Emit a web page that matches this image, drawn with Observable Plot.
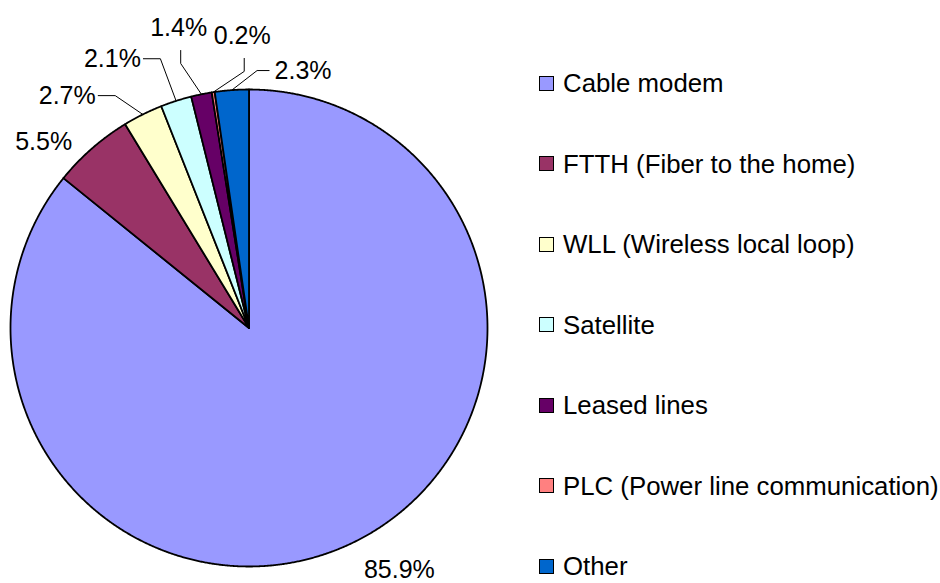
<!DOCTYPE html>
<html><head><meta charset="utf-8">
<script src="https://cdn.jsdelivr.net/npm/d3@7"></script>
<script src="https://cdn.jsdelivr.net/npm/@observablehq/plot@0.6"></script>
<style>
body{margin:0;background:#fff;font-family:"Liberation Sans",Arial,sans-serif;}
#wrap{position:relative;width:940px;height:583px;overflow:hidden;background:#fff}
#chart{position:absolute;left:0;top:0}
#legend{position:absolute;left:539px;top:0;width:401px;height:583px}
.item{position:absolute;left:0;height:22px;line-height:22px;display:flex;align-items:center;white-space:nowrap;font-size:25.8px;color:#000}
.sw{width:13px;height:13px;border:1px solid #000;margin-right:9px;flex:none}
</style></head><body><div id="wrap"><div id="chart"></div><div id="legend"></div></div>
<script>
// ---- data ----
const categories = ["Cable modem","FTTH (Fiber to the home)","WLL (Wireless local loop)","Satellite","Leased lines","PLC (Power line communication)","Other"];
const shares = [85.9, 5.5, 2.7, 2.1, 1.4, 0.2, 2.3];
const labels = ["85.9%","5.5%","2.7%","2.1%","1.4%","0.2%","2.3%"];
const colors = ["#9999FF","#993366","#FFFFCC","#CCFFFF","#660066","#FF8080","#0066CC"];

// ---- layout (styling only) ----
const W = 940, H = 583, CX = 248.5, CY = 327.5, R = 238.5;
const labelNudge = [-6.3, -6.7, -11.6, -9.1, -1.7, 7.3, 16];   // degrees from slice mid-angle
const labelDist  = [1.195, 1.161, 1.237, 1.266, 1.290, 1.223, 1.103]; // in radii
const leaderKind = [null, null, "left", "left", "top", "top", "right"];

const pie = d3.pie().sort(null).value(d => d)(shares);
const deg = Math.PI / 180;

// slice polygons in data units (radius = 1, y up)
const slicePts = [];
pie.forEach((p, i) => {
  const cat = categories[i];
  slicePts.push({cat, x: 0, y: 0});
  const n = Math.max(2, Math.ceil((p.endAngle - p.startAngle) / (0.25 * deg)));
  for (let k = 0; k <= n; k++) {
    const a = p.startAngle + (p.endAngle - p.startAngle) * k / n;
    slicePts.push({cat, x: Math.sin(a), y: Math.cos(a)});
  }
  slicePts.push({cat, x: 0, y: 0});
});

// labels
const labelData = pie.map((p, i) => {
  const a = (p.startAngle + p.endAngle) / 2 + labelNudge[i] * deg;
  return {text: labels[i], x: labelDist[i] * Math.sin(a), y: labelDist[i] * Math.cos(a), mid: (p.startAngle + p.endAngle) / 2, i};
});

// leader lines
const leaderPts = [];
labelData.forEach(l => {
  const kind = leaderKind[l.i];
  if (!kind) return;
  const px = 1 / R;
  let p1, p2;
  if (kind === "left") { p2 = [l.x + 31 * px, l.y]; p1 = [l.x + 48 * px, l.y]; }
  else if (kind === "right") { p2 = [l.x - 34 * px, l.y]; p1 = [l.x - 46 * px, l.y]; }
  else { p2 = [l.x + 2 * px, l.y - 22 * px]; p1 = [l.x + 2 * px, l.y - 35 * px]; }
  const p0 = [Math.sin(l.mid), Math.cos(l.mid)];
  [p2, p1, p0].forEach(p => leaderPts.push({id: l.i, x: p[0], y: p[1]}));
});

const chart = Plot.plot({
  width: W, height: H,
  marginTop: 0, marginRight: 0, marginBottom: 0, marginLeft: 0,
  x: {type: "linear", domain: [-CX / R, (W - CX) / R], range: [0, W], axis: null},
  y: {type: "linear", domain: [-(H - CY) / R, CY / R], range: [H, 0], axis: null},
  color: {domain: categories, range: colors},
  style: {background: "transparent", fontFamily: "'Liberation Sans', Arial, sans-serif"},
  marks: [
    Plot.line(slicePts, {x: "x", y: "y", z: "cat", fill: "cat", stroke: "#000", strokeWidth: 1.8, strokeLinejoin: "round", curve: "linear"}),
    Plot.line(leaderPts, {x: "x", y: "y", z: "id", stroke: "#000", strokeWidth: 1, fill: "none"}),
    Plot.text(labelData, {x: "x", y: "y", text: "text", fontSize: 25, fill: "#000", textAnchor: "middle"})
  ]
});
document.getElementById("chart").appendChild(chart);

// legend
const legend = document.getElementById("legend");
categories.forEach((c, i) => {
  const it = document.createElement("div");
  it.className = "item";
  it.style.top = (72 + 80.5 * i) + "px";
  const sw = document.createElement("span");
  sw.className = "sw";
  sw.style.background = colors[i];
  const tx = document.createElement("span");
  tx.textContent = c;
  it.appendChild(sw); it.appendChild(tx);
  legend.appendChild(it);
});
</script></body></html>
